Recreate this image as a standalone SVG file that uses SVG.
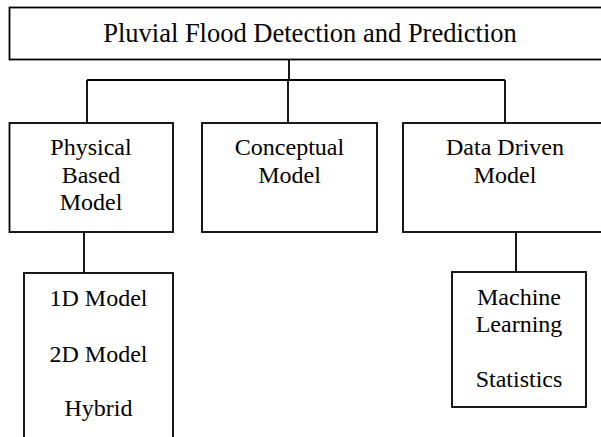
<svg xmlns="http://www.w3.org/2000/svg" width="601" height="437" viewBox="0 0 601 437">
<style>
.box{fill:#fff;stroke:#000;stroke-width:1.8}
.ln{fill:none;stroke:#000;stroke-width:1.8}
text{font-family:"Liberation Serif","Times New Roman",serif;font-size:24px;fill:#000;text-anchor:middle}
.title{font-size:26.5px}
</style>
<rect width="601" height="437" fill="#fff"/>
<g id="connectors">
<path class="ln" d="M289,59.5V80M87,80H505M87,80V123M288,80V123M505,80V123M84,232V273M516,232V272"/>
</g>
<g id="root">
<rect class="box" x="9.5" y="7.5" width="600" height="52"/>
<text class="title" x="310" y="42">Pluvial Flood Detection and Prediction</text>
</g>
<g id="physical">
<rect class="box" x="9.5" y="123" width="163.5" height="109"/>
<text x="91" y="155">Physical</text>
<text x="91" y="183">Based</text>
<text x="91" y="210">Model</text>
</g>
<g id="conceptual">
<rect class="box" x="202" y="123" width="175" height="109"/>
<text x="289.5" y="155">Conceptual</text>
<text x="289.5" y="183">Model</text>
</g>
<g id="datadriven">
<rect class="box" x="403" y="123" width="210" height="109"/>
<text x="505" y="155">Data Driven</text>
<text x="505" y="183">Model</text>
</g>
<g id="physical-types">
<rect class="box" x="24" y="273" width="149" height="180"/>
<text x="98.5" y="306">1D Model</text>
<text x="98.5" y="362">2D Model</text>
<text x="98.5" y="416">Hybrid</text>
</g>
<g id="datadriven-types">
<rect class="box" x="452" y="272" width="134" height="135"/>
<text x="519" y="305">Machine</text>
<text x="519" y="332">Learning</text>
<text x="519" y="387">Statistics</text>
</g>
</svg>
